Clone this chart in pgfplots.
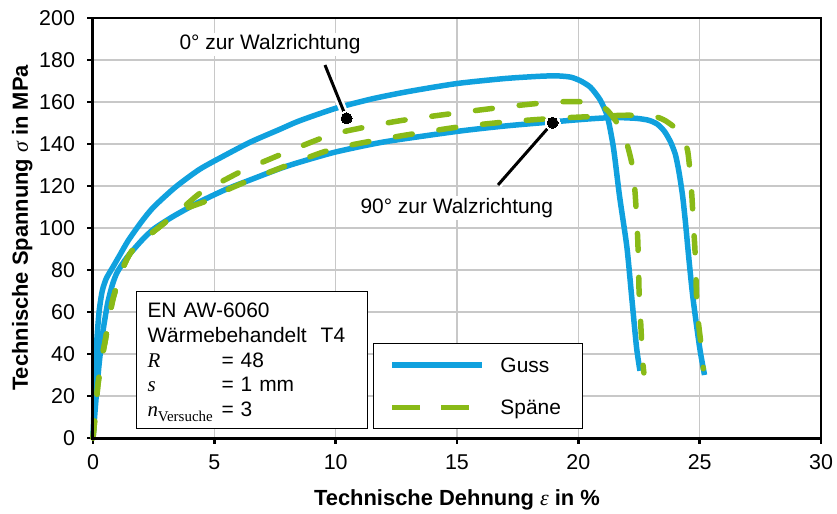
\documentclass[border=0pt]{standalone}
\usepackage{fontspec}
\setmainfont{Liberation Sans}
\newfontfamily\timesfont{Liberation Serif}
\usepackage{pgfplots}
\pgfplotsset{compat=1.18}
\usetikzlibrary{calc}
\definecolor{cblue}{RGB}{16,161,222}
\definecolor{cgreen}{RGB}{137,186,23}
\definecolor{cgrid}{RGB}{200,200,200}
\begin{document}
\begin{tikzpicture}
\begin{axis}[
  scale only axis, width=728bp, height=420bp,
  xmin=0, xmax=30, ymin=0, ymax=200,
  xtick={0,5,...,30}, ytick={0,20,...,200},
  clip=false,
  grid=major, major grid style={cgrid, line width=1.2bp},
  axis line style={black, line width=1.2bp},
  tick align=outside, tick pos=left,
  major tick length=5.5bp,
  every tick/.style={black, line width=2.5bp},
  tick label style={font=\fontsize{21.5}{25}\selectfont, /pgf/number format/assume math mode=true},
  yticklabel style={xshift=-9bp},
  xticklabel style={yshift=-8bp},
  xlabel={Technische Dehnung {\timesfont\itshape\mdseries ε} in \%},
  ylabel={Technische Spannung {\timesfont\itshape\mdseries σ} in MPa},
  xlabel style={font=\fontsize{22}{26}\selectfont\bfseries, at={($(axis description cs:0.5,0)+(0,-67bp)$)}, anchor=base},
  ylabel style={font=\fontsize{22}{26}\selectfont\bfseries, at={($(axis description cs:0,0.5)+(-65bp,0)$)}, anchor=base},
  legend style={at={(axis description cs:0.3846,0.0214)}, anchor=south west, draw=black, line width=1bp,
    inner sep=0pt, row sep=0pt, column sep=0pt, fill=white,
    font=\fontsize{21}{25}\selectfont,
    cells={anchor=west},
    nodes={inner sep=0pt, text width=82bp, align=left, text depth=0pt}},
]
% info box
\node[draw=black, line width=1bp, fill=white, anchor=north west, inner xsep=11bp, inner ysep=0pt,
  text width=209bp, align=left, font=\fontsize{21}{25}\selectfont] at (axis cs:1.772,70)
  {\rule{0pt}{25.7bp}EN AW-6060\\
   Wärmebehandelt\ \ T4\\
   \makebox[74bp][l]{\timesfont\itshape R}= 48\\
   \makebox[74bp][l]{\timesfont\itshape s}= 1 mm\\
   \makebox[74bp][l]{{\timesfont\itshape n}\raisebox{-5bp}{\fontsize{15}{15}\selectfont\timesfont Versuche}}= 3\rule[-11.3bp]{0pt}{11.3bp}};

% Guss 0 deg
\addplot[cblue, line width=5.5bp, line join=round, smooth, tension=0.4,
  legend image code/.code={\path[draw=none, fill=none] (-19bp,-21.25bp) rectangle (108bp,21.25bp);
     \draw[cblue, solid, line width=5.5bp, line cap=butt] (0bp,0bp) -- (90bp,0bp);}]
coordinates {(0,0) (0.08,25) (0.15,45) (0.25,60) (0.38,70) (0.55,76) (0.8,81) (1.1,87) (1.45,94) (2.0,103) (2.5,110) (3.4,119.5) (4.4,128) (5.5,135) (6.5,141) (7.7,147) (8.5,151) (10,157) (11.5,161.5) (13,165) (15,168.8) (17,171.2) (18.5,172.3) (19.2,172.4) (19.7,171.8) (20.1,170) (20.5,167) (20.9,161) (21.2,153) (21.45,138) (21.7,115) (22.0,91) (22.2,67) (22.4,43) (22.54,32)};
\addlegendentry{Guss}
% Guss 90 deg
\addplot[cblue, line width=5.5bp, line join=round, smooth, tension=0.4, forget plot]
coordinates {(0,0) (0.12,18) (0.25,35) (0.4,50) (0.6,64) (0.8,73) (1.0,79) (1.4,86) (2.0,94) (2.5,99.5) (3.3,105.5) (4.4,112.5) (5.5,118.5) (6.5,123) (7.7,128.3) (8.5,131.3) (10,136.2) (12,141) (15,146) (17,148.6) (19,150.6) (20.5,152) (21.5,152.6) (22.4,152.2) (22.9,151.3) (23.25,149.5) (23.55,146) (23.8,141) (24.0,135) (24.15,126.5) (24.3,115) (24.42,102) (24.55,86) (24.72,67) (25.0,43) (25.2,30)};
% Spaene 0 deg
\addplot[cgreen, line width=5.5bp, line cap=round, dash pattern=on 17bp off 27bp, smooth, tension=0.4,
  legend image code/.code={\path[draw=none, fill=none] (-19bp,-21.25bp) rectangle (108bp,21.25bp);
     \draw[cgreen, line width=5.5bp, line cap=butt, dash pattern=on 28bp off 21bp] (0bp,0bp) -- (90bp,0bp);}]
coordinates {(0,0) (0.1,12) (0.2,25) (0.35,37) (0.5,46) (0.65,56) (0.82,66) (1.1,77) (1.35,84) (1.6,89) (2.2,95.5) (2.9,102) (3.6,108.6) (4.4,116.5) (5.2,121.5) (6.2,127.5) (7.2,132.4) (8.5,138.6) (10,145) (12.5,150.8) (15,154.8) (17,157.7) (18.5,159.5) (19.5,160.2) (20.3,160) (20.8,159) (21.2,156) (21.6,150) (21.95,142) (22.2,131) (22.33,118) (22.4,105) (22.45,94) (22.48,82) (22.5,71) (22.55,59.5) (22.6,48) (22.66,36) (22.7,31)};
\addlegendentry{Späne}
% Spaene 90 deg
\addplot[cgreen, line width=5.5bp, line cap=round, dash pattern=on 17bp off 27bp, smooth, tension=0.4, forget plot]
coordinates {(0,0) (0.1,12) (0.2,25) (0.35,37) (0.5,46) (0.65,56) (0.82,66) (1.1,77) (1.35,84) (1.6,89) (2.2,95.5) (2.9,102) (3.6,108.2) (4.7,113) (5.5,118) (6.5,123) (7.3,126.7) (8.5,132) (10,138) (12.5,143.5) (15,148) (17,150.5) (19,152.2) (21,153.3) (22.1,153.7) (23.16,153) (23.6,151) (24.1,146.7) (24.3,143) (24.5,137) (24.6,127) (24.68,115) (24.74,102) (24.8,91) (24.84,80) (24.87,68) (24.94,56) (25.05,45) (25.15,33)};

% pointers
\addplot[white, line width=8bp, mark=*, mark indices={2}, mark size=7.5bp, mark options={fill=white, draw=white, line width=0pt}, forget plot]
  coordinates {(9.56,177.6) (10.45,152.2)};
\addplot[black, line width=3bp, mark=*, mark indices={2}, mark size=5.5bp, mark options={fill=black, line width=0pt}, forget plot]
  coordinates {(9.56,177.6) (10.45,152.2)};
\addplot[white, line width=8bp, mark=*, mark indices={2}, mark size=7.5bp, mark options={fill=white, draw=white, line width=0pt}, forget plot]
  coordinates {(16.69,120.5) (18.94,150.1)};
\addplot[black, line width=3bp, mark=*, mark indices={2}, mark size=5.5bp, mark options={fill=black, line width=0pt}, forget plot]
  coordinates {(16.69,120.5) (18.94,150.1)};

\node[fill=white, inner sep=2bp, anchor=base, font=\fontsize{21}{25}\selectfont] at (axis cs:7.293,184.8) {0° zur Walzrichtung};
\node[fill=white, inner sep=2bp, anchor=base, font=\fontsize{21}{25}\selectfont] at (axis cs:14.99,107) {90° zur Walzrichtung};

\draw[black, line width=3bp] (rel axis cs:0,1) -- (rel axis cs:0,0) -- (rel axis cs:1,0);
\coordinate (ll) at (rel axis cs:0,0);
\coordinate (ur) at (rel axis cs:1,1);
\end{axis}
\pgfresetboundingbox
\path ($(ll)+(-93bp,-76bp)$) rectangle ($(ur)+(16bp,18bp)$);
\end{tikzpicture}
\end{document}
